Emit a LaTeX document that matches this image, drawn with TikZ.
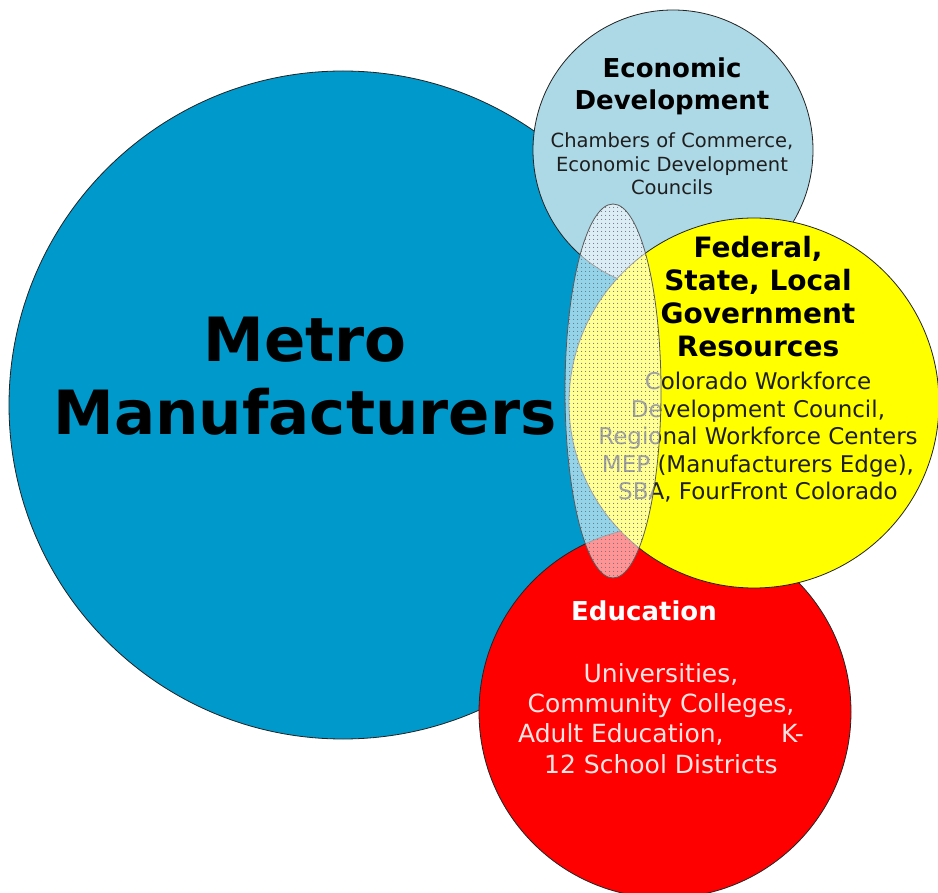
\documentclass[tikz,border=0pt]{standalone}
\usepackage{fontspec}
\setmainfont{DejaVu Sans}
\usetikzlibrary{patterns}
\pgfdeclarepatternformonly{ovaldots}{\pgfpointorigin}{\pgfpoint{4pt}{4pt}}{\pgfpoint{4pt}{4pt}}{%
  \pgfpathcircle{\pgfpoint{2pt}{2pt}}{0.65pt}\pgfusepath{fill}}
\definecolor{mblue}{RGB}{0,153,204}
\definecolor{lblue}{RGB}{173,216,230}
\definecolor{myellow}{RGB}{255,255,0}
\definecolor{mred}{RGB}{255,0,0}
\definecolor{pinkw}{RGB}{255,228,228}
\definecolor{edgec}{RGB}{35,35,35}
\definecolor{bodyc}{RGB}{30,30,30}
\definecolor{dotc}{RGB}{110,115,140}
\begin{document}
\begin{tikzpicture}[x=1pt,y=-1pt,
  circ/.style={circle, draw=edgec, line width=0.8pt, inner sep=0pt},
  lbl/.style={align=center, anchor=base, inner sep=0pt}]
\useasboundingbox (0,0) rectangle (938,893);
\fill[white] (0,0) rectangle (938,893);
\begin{scope}
\clip (0,0) rectangle (938,893);
\node[circ, fill=mblue, minimum size=668pt] (metro) at (343,405) {};
\node[circ, fill=lblue, minimum size=280pt] (econ) at (673,150) {};
\node[circ, fill=mred, minimum size=372pt] (edu) at (665,712) {};
\node[circ, fill=myellow, minimum size=370pt] (gov) at (754,403) {};

\node[lbl, font=\bfseries\fontsize{61}{73}\selectfont] (metrotxt) at (305,435) {Metro\\Manufacturers};

\node[lbl, font=\bfseries\fontsize{26}{32}\selectfont, text=black] (econtitle) at (672,110) {Economic\\Development};
\node[lbl, font=\fontsize{19.5}{23.5}\selectfont, text=bodyc] (econbody) at (672,195) {Chambers of Commerce,\\Economic Development\\Councils};

\node[lbl, font=\bfseries\fontsize{28}{33.3}\selectfont, text=black] (govtitle) at (758,357) {Federal,\\State, Local\\Government\\Resources};
\node[lbl, font=\fontsize{23}{27.6}\selectfont, text=bodyc] (govbody) at (758,500) {Colorado Workforce\\Development Council,\\Regional Workforce Centers\\MEP (Manufacturers Edge),\\SBA, FourFront Colorado};

\node[lbl, font=\bfseries\fontsize{26}{30}\selectfont, text=white] (edutitle) at (644,620) {Education};
\node[lbl, font=\fontsize{25}{30.3}\selectfont, text=pinkw] (edubody) at (661,773) {Universities,\\Community Colleges,\\Adult Education,\hspace{2.3em}K-\\12 School Districts};

\path[fill=white, fill opacity=0.58] (613,391) ellipse [x radius=48pt, y radius=187pt];
\path[pattern=ovaldots, pattern color=dotc] (613,391) ellipse [x radius=48pt, y radius=187pt];
\draw[black!65, line width=0.8pt] (613,391) ellipse [x radius=48pt, y radius=187pt];
\end{scope}
\end{tikzpicture}
\end{document}
